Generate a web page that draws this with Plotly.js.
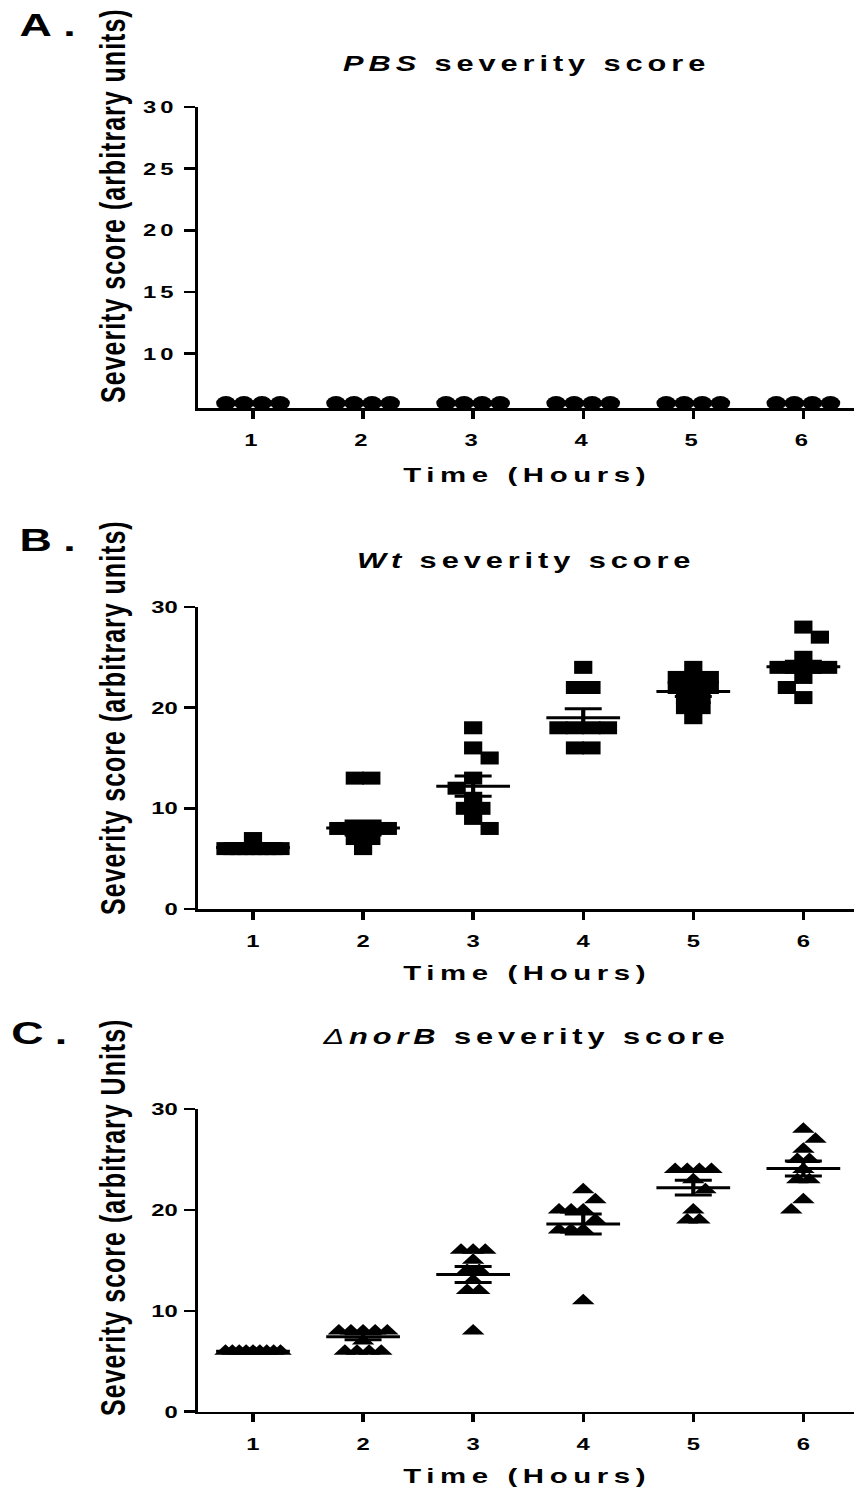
<!DOCTYPE html>
<html>
<head>
<meta charset="utf-8">
<script src="https://cdn.plot.ly/plotly-3.0.1.min.js"></script>
<style>
html,body{margin:0;padding:0;background:#fff;}
#wrap{width:854px;height:1488px;overflow:hidden;position:relative;background:#fff;}
#chart{width:610px;height:1488px;transform:scaleX(1.4);transform-origin:0 0;}
.xtick text,.ytick text{letter-spacing:3px;}
</style>
</head>
<body>
<div id="wrap"><div id="chart"></div></div>
<script>
// ---------- data ----------
const hours = [1, 2, 3, 4, 5, 6];
const hourLabels = ['1', '2', '3', '4', '5', '6'];

const pbsScores = [
  [6, 6, 6, 6], [6, 6, 6, 6], [6, 6, 6, 6],
  [6, 6, 6, 6], [6, 6, 6, 6], [6, 6, 6, 6]
];

const wtScores = [
  [7, 6, 6, 6, 6, 6, 6, 6, 6, 6],
  [13, 13, 8, 8, 8, 8, 7, 7, 6],
  [18, 16, 15, 13, 12, 11, 10, 10, 9, 8],
  [24, 22, 22, 18, 18, 18, 18, 16, 16],
  [24, 23, 23, 23, 22, 22, 22, 21, 21, 20, 20, 19],
  [28, 27, 25, 24, 24, 24, 24, 23, 22, 21]
];
const wtMean = [6.1, 8.05, 12.2, 19.0, 21.6, 24.06];
const wtSem = [0.1, 0.7, 1.0, 0.9, 0.5, 0.55];

const norbScores = [
  [6, 6, 6, 6, 6, 6, 6, 6, 6],
  [8, 8, 8, 8, 8, 7, 6, 6, 6, 6],
  [16, 16, 16, 15, 14, 14, 13, 12, 12, 8],
  [22, 21, 20, 20, 20, 19, 18, 18, 18, 11],
  [24, 24, 24, 24, 23, 22, 20, 19, 19],
  [28, 27, 26, 25, 25, 24, 23, 23, 21, 20]
];
const norbMean = [6.0, 7.43, 13.6, 18.6, 22.2, 24.1];
const norbSem = [0.05, 0.3, 0.8, 1.0, 0.73, 0.75];

const panelLetters = ['A.', 'B.', 'C.'];
const panelTitles = [
  '<i>PBS</i> severity score',
  '<i>Wt</i> severity score',
  '<i><span style="font-weight:normal">\u0394</span>norB</i> severity score'
];
const yTitles = [
  'Severity score (arbitrary units)',
  'Severity score (arbitrary units)',
  'Severity score (arbitrary Units)'
];
const xTitle = 'Time (Hours)';

// ---------- helpers ----------
const FONT = 'Liberation Sans, Arial, Helvetica, sans-serif';

// scatter-dot-plot layout: identical values spread in rows, neighbours nudged sideways
function swarm(groups, w, hUnits, maxW) {
  const xs = [], ys = [];
  groups.forEach((vals, gi) => {
    const center = hours[gi];
    const counts = {};
    vals.forEach(v => { counts[v] = (counts[v] || 0) + 1; });
    const levels = Object.keys(counts).map(Number).sort((a, b) => b - a);
    const placed = [];
    let sgn = 1;
    levels.forEach(v => {
      const n = counts[v];
      const s = n > 1 ? Math.min(w, maxW / (n - 1)) : 0;
      const offs = Array.from({length: n}, (_, i) => (i - (n - 1) / 2) * s);
      const cands = [0, sgn * w / 2, -sgn * w / 2, sgn * w, -sgn * w];
      let c = 0;
      for (const cc of cands) {
        const ok = offs.every(o => placed.every(p =>
          Math.abs(p.v - v) >= hUnits || Math.abs(p.x - (o + cc)) >= 0.9 * w));
        if (ok) { c = cc; break; }
      }
      if (c !== 0) sgn = -sgn;
      offs.forEach(o => { placed.push({v: v, x: o + c}); xs.push(center + o + c); ys.push(v); });
    });
  });
  return {xs, ys};
}

function meanSemTraces(means, sems, xa, ya) {
  const mx = [], my = [], sx = [], sy = [];
  hours.forEach((h, i) => {
    const m = means[i], s = sems[i];
    mx.push(h - 0.335, h + 0.335, null); my.push(m, m, null);
    sx.push(h, h, null, h - 0.168, h + 0.168, null, h - 0.168, h + 0.168, null);
    sy.push(m - s, m + s, null, m + s, m + s, null, m - s, m - s, null);
  });
  const base = {type: 'scatter', mode: 'lines', xaxis: xa, yaxis: ya, hoverinfo: 'skip',
    showlegend: false, cliponaxis: false};
  return [
    Object.assign({}, base, {x: mx, y: my, line: {color: '#000', width: 3}}),
    Object.assign({}, base, {x: sx, y: sy, line: {color: '#000', width: 3}})
  ];
}

function markerTrace(pts, symbol, size, xa, ya) {
  return {type: 'scatter', mode: 'markers', x: pts.xs, y: pts.ys, xaxis: xa, yaxis: ya,
    marker: {symbol: symbol, size: size, color: '#000', line: {width: 0}},
    cliponaxis: false, showlegend: false, hoverinfo: 'skip'};
}

const ptsA = swarm(pbsScores, 0.164, 1.13, 0.5);
const ptsB = swarm(wtScores, 0.15, 1.29, 0.5);
const ptsC = swarm(norbScores, 0.11, 1.2, 0.5);

const traces = [
  markerTrace(ptsA, 'circle', 14, 'x', 'y'),
  markerTrace(ptsB, 'square', 13, 'x2', 'y2'),
  ...meanSemTraces(wtMean, wtSem, 'x2', 'y2'),
  markerTrace(ptsC, 'triangle-up', 14, 'x3', 'y3'),
  ...meanSemTraces(norbMean, norbSem, 'x3', 'y3')
];

// ---------- layout ----------
const tickFont = {family: FONT, size: 17, weight: 'bold', color: '#000'};
function xAxis(anchor) {
  return {domain: [0.2318, 1], range: [0.5, 6.46], anchor: anchor,
    tickmode: 'array', tickvals: hours, ticktext: hourLabels,
    ticks: 'outside', ticklen: 8, tickwidth: 2.4, tickcolor: '#000',
    showline: true, linewidth: 2.5, linecolor: '#000',
    showgrid: false, zeroline: false, fixedrange: true,
    tickfont: tickFont, ticklabelstandoff: 7};
}
function yAxis(anchor, domain, range, vals) {
  return {domain: domain, range: range, anchor: anchor,
    tickmode: 'array', tickvals: vals, ticktext: vals.map(String),
    ticks: 'outside', ticklen: 8, tickwidth: 2.5, tickcolor: '#000',
    showline: true, linewidth: 2, linecolor: '#000',
    showgrid: false, zeroline: false, fixedrange: true,
    tickfont: tickFont, ticklabelstandoff: 1};
}

const H = 1488;
function py(v) { return 1 - v / H; }
function ann(text, x, y, size, opts) {
  return Object.assign({text: text, x: x, y: y, xref: 'paper', yref: 'paper',
    showarrow: false, xanchor: 'center', yanchor: 'middle',
    font: {family: FONT, size: size, weight: 'bold', color: '#000'}}, opts || {});
}
function spaced(t, px) { return '<span style="letter-spacing:' + px + 'px">' + t + '</span>'; }

const labelX = [0.02, 0.02, 0.01];
const labelY = [25, 540, 1033];
const titleY = [63, 561, 1036];
const xTitleY = [474, 972, 1475];
const yTitleY = [205, 717, 1217];

const annotations = [];
for (let i = 0; i < 3; i++) {
  annotations.push(ann(spaced(panelLetters[i], 8), labelX[i], py(labelY[i]), 32, {xanchor: 'left'}));
  annotations.push(ann(spaced(panelTitles[i], 3.5), 0.616, py(titleY[i]), 22));
  annotations.push(ann(spaced(xTitle, 4), 0.618, py(xTitleY[i]), 21));
  annotations.push(ann(spaced(yTitles[i], 1), 0.1311, py(yTitleY[i]), 25, {textangle: -90}));
}

const layout = {
  width: 610, height: 1488,
  margin: {l: 0, r: 0, t: 0, b: 0},
  paper_bgcolor: '#fff', plot_bgcolor: 'rgba(0,0,0,0)',
  showlegend: false, hovermode: false,
  xaxis: xAxis('y'),
  yaxis: yAxis('x', [0.7258, 0.9281], [5.6, 30], [10, 15, 20, 25, 30]),
  xaxis2: xAxis('y2'),
  yaxis2: yAxis('x2', [0.3891, 0.5921], [0, 30], [0, 10, 20, 30]),
  xaxis3: xAxis('y3'),
  yaxis3: yAxis('x3', [0.0513, 0.2547], [0, 30], [0, 10, 20, 30]),
  annotations: annotations
};

Plotly.newPlot('chart', traces, layout, {staticPlot: true, displayModeBar: false});
</script>
</body>
</html>
